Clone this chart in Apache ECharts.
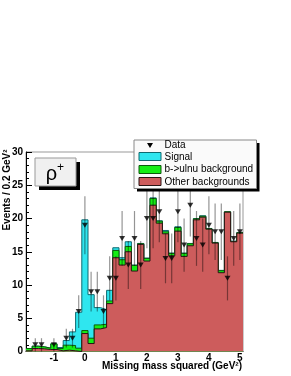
<!DOCTYPE html>
<html><head><meta charset="utf-8">
<script src="https://cdn.jsdelivr.net/npm/echarts@6/dist/echarts.min.js"></script>
<style>html,body{margin:0;padding:0;background:#fff}#c{width:291px;height:376px}</style>
</head><body><div id="c"></div>
<script>
// Bin centers (GeV^2), bin width 0.2
const binCenters = [-1.8,-1.6,-1.4,-1.2,-1.0,-0.8,-0.6,-0.4,-0.2,0.0,0.2,0.4,0.6,0.8,1.0,1.2,1.4,1.6,1.8,2.0,2.2,2.4,2.6,2.8,3.0,3.2,3.4,3.6,3.8,4.0,4.2,4.4,4.6,4.8,5.0];
const binWidth = 0.2;
// Observed events per bin
const dataCounts = [0,1,1,0,1,0,2,2,6,19,9,9,6,11,11,17,13,17,13,20,20,21,14,14,21,16,22,17,16,19,18,18,11,17,18];
// Stacked components (per bin, not cumulative)
const otherBkg = [0.1,0.45,0.4,0.3,0.3,0.1,0.2,0.1,0.0,2.7,1.2,3.4,3.6,7.2,14.1,13.0,15.0,12.1,16.1,13.6,22.0,19.3,17.7,14.4,18.1,14.3,15.9,19.8,20.2,18.4,16.3,11.85,20.95,16.5,17.8];
const bulnuBkg = [0.35,0.35,0.3,0.2,0.85,0.35,0.75,0.8,0.5,0.45,0.8,0.6,0.5,0.4,1.1,0.8,0.8,0.85,0.1,0.4,1.0,0.3,0.3,0.35,0.55,0.45,0.3,0.15,0.15,0.05,0.05,0.3,0.05,0.05,0.05];
const signal   = [0,0,0,0,0,0.15,0.7,2.05,5.4,16.65,6.55,2.6,2.2,1.6,0.4,0.3,0.7,0.05,0.05,0.05,0.1,0.05,0.2,0.05,0.1,0.05,0.05,0.05,0.05,0.05,0.05,0.05,0,0.05,0.05];
// Axis ticks
const xMajorTicks = [-1,0,1,2,3,4,5];
const xMinorTicks = [];
for (let i = -9; i <= 25; i++) xMinorTicks.push(+(i*0.2).toFixed(2));
const yMin = 0, yMax = 30, yInterval = 5;
const xMin = -1.9, xMax = 5.1;

const FONT = 'Liberation Sans, Arial, Helvetica, sans-serif';

const edges = binCenters.map(c => +(c - binWidth/2).toFixed(3));
edges.push(+(binCenters[binCenters.length-1] + binWidth/2).toFixed(3));
const cumOther = otherBkg.slice();
const cumBulnu = otherBkg.map((v,i) => v + bulnuBkg[i]);
const cumSignal = cumBulnu.map((v,i) => v + signal[i]);
function stepData(arr){ return edges.map((e,i) => [e, arr[Math.min(i, arr.length-1)]]); }
const pts = [];
binCenters.forEach((c,i) => { if (dataCounts[i] > 0) pts.push([c, dataCounts[i]]); });

function histSeries(name, arr, fill, line, z){
  return {name, type:'line', step:'end', data: stepData(arr), symbol:'none', silent:true, z,
    lineStyle:{color:line, width:1}, areaStyle:{color:fill, opacity:1}, animation:false};
}

const chart = echarts.init(document.getElementById('c'), null, {renderer:'canvas'});
chart.setOption({
  animation:false,
  backgroundColor:'#fff',
  grid:{left:26, right:48, top:152, bottom:24.5, show:true, borderColor:'#999', borderWidth:1, backgroundColor:'transparent'},
  xAxis:[{
    type:'value', min:xMin, max:xMax, position:'bottom',
    axisLine:{show:true, onZero:false, lineStyle:{color:'#000', width:1}},
    axisTick:{show:true, inside:true, length:6, customValues:xMajorTicks, lineStyle:{color:'#000'}},
    axisLabel:{show:true, customValues:xMajorTicks, color:'#000', fontFamily:FONT, fontWeight:'bold', fontSize:10, margin:2},
    splitLine:{show:false}
  },{
    type:'value', min:xMin, max:xMax, position:'bottom',
    axisLine:{show:false},
    axisTick:{show:true, inside:true, length:3, customValues:xMinorTicks, lineStyle:{color:'#000'}},
    axisLabel:{show:false}, splitLine:{show:false}
  }],
  yAxis:{
    type:'value', min:yMin, max:yMax, interval:yInterval,
    axisLine:{show:true, onZero:false, lineStyle:{color:'#000', width:1}},
    axisTick:{show:true, inside:true, length:6, lineStyle:{color:'#000'}},
    minorTick:{show:true, splitNumber:5, length:3, lineStyle:{color:'#000'}},
    axisLabel:{color:'#000', fontFamily:FONT, fontWeight:'bold', fontSize:10, margin:3},
    splitLine:{show:false}
  },
  series:[
    histSeries('Signal', cumSignal, '#2fe6ef', '#0e6a70', 1),
    histSeries('b->ulnu background', cumBulnu, '#14ee14', '#0b5a0b', 2),
    histSeries('Other backgrounds', cumOther, '#cd5c5c', '#2a1414', 3),
    {type:'custom', name:'errors', data:pts, z:4, silent:true,
     renderItem:function(params, api){
       const x = api.value(0), y = api.value(1), e = Math.sqrt(y);
       const p1 = api.coord([x, y+e]), p2 = api.coord([x, Math.max(0, y-e)]);
       return {type:'line', shape:{x1:p1[0], y1:p1[1], x2:p2[0], y2:p2[1]},
               style:{stroke:'rgba(0,0,0,0.42)', lineWidth:1.2}};
     }},
    {type:'scatter', name:'Data', data:pts, symbol:'triangle', symbolRotate:180, symbolSize:[6,5], z:5,
     itemStyle:{color:'#000'}, silent:true}
  ],
  graphic:[
    {type:'text', x:7, y:190, rotation:Math.PI/2, z:10,
     style:{text:'Events / 0.2 GeV²', font:'bold 10px '+FONT, fill:'#000', align:'center', verticalAlign:'middle'}},
    {type:'text', x:242, y:366, z:10,
     style:{text:'Missing mass squared (GeV²)', font:'bold 10px '+FONT, fill:'#000', align:'right', verticalAlign:'middle'}},
    // rho+ box
    {type:'rect', shape:{x:39, y:162, width:41, height:28}, style:{fill:'#000'}, z:20},
    {type:'rect', shape:{x:35, y:158, width:41, height:28}, style:{fill:'#f0f0f0', stroke:'#999', lineWidth:1}, z:21},
    {type:'text', x:51.5, y:174, z:22, style:{text:'ρ', font:'20px '+FONT, fill:'#000', align:'center', verticalAlign:'middle'}},
    {type:'text', x:60.5, y:168, z:22, style:{text:'+', font:'12px '+FONT, fill:'#000', align:'center', verticalAlign:'middle'}},
    // legend
    {type:'rect', shape:{x:137, y:143, width:122.5, height:48.5}, style:{fill:'#000'}, z:20},
    {type:'rect', shape:{x:134, y:140, width:122.5, height:48.5}, style:{fill:'#fafafa', stroke:'#888', lineWidth:1}, z:21},
    {type:'polygon', shape:{points:[[147,143],[153,143],[150,148]]}, style:{fill:'#000'}, z:22},
    {type:'text', x:164.5, y:145.5, z:22, style:{text:'Data', font:'10px '+FONT, fill:'#000', verticalAlign:'middle'}},
    {type:'rect', shape:{x:139, y:152.5, width:22, height:8}, style:{fill:'#2fe6ef', stroke:'#0e6a70', lineWidth:1}, z:22},
    {type:'text', x:164.5, y:157, z:22, style:{text:'Signal', font:'10px '+FONT, fill:'#000', verticalAlign:'middle'}},
    {type:'rect', shape:{x:139, y:165.5, width:22, height:8}, style:{fill:'#14ee14', stroke:'#0b5a0b', lineWidth:1}, z:22},
    {type:'text', x:164.5, y:169.5, z:22, style:{text:'b->ulnu background', font:'10px '+FONT, fill:'#000', verticalAlign:'middle'}},
    {type:'rect', shape:{x:139, y:177.5, width:22, height:8}, style:{fill:'#cd5c5c', stroke:'#2a1414', lineWidth:1}, z:22},
    {type:'text', x:164.5, y:182, z:22, style:{text:'Other backgrounds', font:'10px '+FONT, fill:'#000', verticalAlign:'middle'}}
  ]
});
</script>
</body></html>
